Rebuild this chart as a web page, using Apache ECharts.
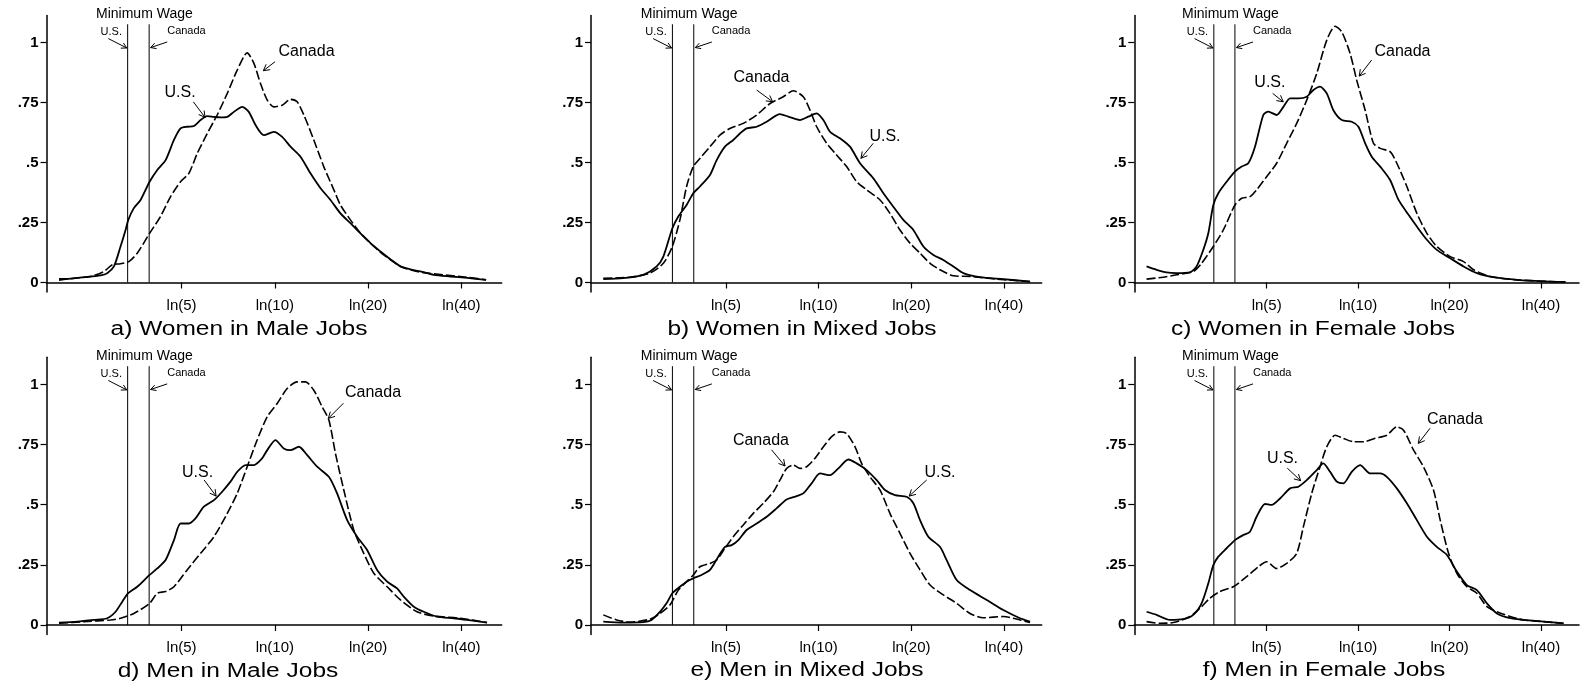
<!DOCTYPE html>
<html><head><meta charset="utf-8">
<script src="https://cdn.jsdelivr.net/npm/echarts@6/dist/echarts.min.js"></script>
<style>html,body{margin:0;padding:0;background:#fff}#c{width:1580px;height:685px}</style>
</head><body><div id="c"></div>
<script>
// ---------- data (x = ln(hourly wage), y = density) ----------
const xTickWages = [5, 10, 20, 40];
const xTickLabels = ['ln(5)', 'ln(10)', 'ln(20)', 'ln(40)'];
const yTickValues = [0, 0.25, 0.5, 0.75, 1];
const yTickLabels = ['0', '.25', '.5', '.75', '1'];
const minWageUS = 3.35;
const minWageCanada = 3.93;
const minWageLineTop = 1.076;
const panelTitles = ['a) Women in Male Jobs', 'b) Women in Mixed Jobs', 'c) Women in Female Jobs',
                     'd) Men in Male Jobs', 'e) Men in Mixed Jobs', 'f) Men in Female Jobs'];

const usA = [[0.699,0.015],[0.760,0.015],[0.884,0.022],[1.008,0.030],[1.057,0.039],[1.107,0.067],[1.156,0.150],[1.194,0.220],[1.213,0.260],[1.255,0.310],[1.305,0.344],[1.372,0.420],[1.429,0.469],[1.491,0.510],[1.553,0.594],[1.602,0.642],[1.651,0.649],[1.701,0.652],[1.751,0.677],[1.800,0.693],[1.850,0.690],[1.899,0.688],[1.949,0.690],[1.998,0.711],[2.060,0.732],[2.109,0.711],[2.159,0.656],[2.221,0.614],[2.295,0.628],[2.357,0.607],[2.419,0.566],[2.493,0.524],[2.567,0.455],[2.642,0.393],[2.716,0.344],[2.790,0.288],[2.864,0.247],[2.939,0.205],[3.013,0.164],[3.087,0.129],[3.161,0.097],[3.236,0.067],[3.310,0.055],[3.384,0.046],[3.483,0.032],[3.607,0.025],[3.731,0.019],[3.872,0.011]];
const caA = [[0.699,0.010],[0.810,0.018],[0.934,0.025],[1.033,0.046],[1.095,0.074],[1.156,0.078],[1.218,0.087],[1.280,0.122],[1.372,0.205],[1.453,0.275],[1.528,0.358],[1.602,0.420],[1.664,0.455],[1.726,0.538],[1.800,0.621],[1.874,0.698],[1.949,0.788],[2.023,0.885],[2.097,0.957],[2.147,0.913],[2.196,0.829],[2.246,0.760],[2.295,0.732],[2.357,0.739],[2.419,0.763],[2.468,0.753],[2.518,0.698],[2.592,0.594],[2.666,0.483],[2.741,0.386],[2.790,0.323],[2.864,0.261],[2.939,0.205],[3.013,0.164],[3.112,0.115],[3.236,0.067],[3.359,0.046],[3.483,0.036],[3.731,0.022],[3.872,0.011]];
const usB = [[0.692,0.014],[0.841,0.018],[0.991,0.032],[1.091,0.067],[1.141,0.108],[1.208,0.225],[1.253,0.275],[1.315,0.323],[1.365,0.372],[1.415,0.400],[1.490,0.448],[1.540,0.510],[1.602,0.566],[1.664,0.594],[1.714,0.621],[1.764,0.642],[1.839,0.649],[1.914,0.670],[2.013,0.702],[2.076,0.691],[2.163,0.677],[2.225,0.691],[2.288,0.705],[2.338,0.677],[2.388,0.628],[2.462,0.601],[2.537,0.566],[2.612,0.497],[2.712,0.434],[2.787,0.372],[2.861,0.316],[2.936,0.261],[3.011,0.219],[3.086,0.150],[3.161,0.115],[3.235,0.094],[3.310,0.067],[3.385,0.039],[3.510,0.022],[3.684,0.014],[3.884,0.004]];
const caB = [[0.692,0.018],[0.891,0.022],[1.041,0.039],[1.141,0.080],[1.208,0.150],[1.265,0.261],[1.315,0.400],[1.365,0.483],[1.415,0.517],[1.490,0.566],[1.564,0.614],[1.639,0.642],[1.739,0.663],[1.839,0.698],[1.939,0.746],[2.038,0.774],[2.113,0.799],[2.188,0.774],[2.238,0.718],[2.288,0.649],[2.363,0.580],[2.437,0.531],[2.512,0.483],[2.587,0.420],[2.662,0.386],[2.762,0.344],[2.836,0.288],[2.911,0.219],[2.986,0.164],[3.061,0.122],[3.136,0.080],[3.210,0.053],[3.310,0.028],[3.435,0.025],[3.634,0.014],[3.884,0.004]];
const usC = [[0.699,0.067],[0.775,0.053],[0.850,0.042],[0.926,0.039],[1.028,0.042],[1.078,0.067],[1.129,0.136],[1.167,0.205],[1.205,0.323],[1.243,0.372],[1.306,0.420],[1.369,0.462],[1.420,0.483],[1.470,0.497],[1.521,0.566],[1.584,0.698],[1.622,0.712],[1.685,0.698],[1.736,0.732],[1.787,0.767],[1.850,0.767],[1.913,0.774],[1.964,0.802],[2.014,0.816],[2.065,0.788],[2.115,0.718],[2.179,0.677],[2.254,0.670],[2.305,0.649],[2.356,0.580],[2.406,0.524],[2.470,0.483],[2.545,0.427],[2.609,0.344],[2.685,0.282],[2.748,0.233],[2.824,0.178],[2.899,0.136],[3.001,0.101],[3.102,0.067],[3.203,0.039],[3.330,0.022],[3.507,0.011],[3.760,0.004],[3.874,0.003]];
const caC = [[0.699,0.014],[0.825,0.022],[0.926,0.032],[1.053,0.046],[1.116,0.080],[1.205,0.150],[1.281,0.219],[1.369,0.323],[1.420,0.351],[1.483,0.358],[1.533,0.386],[1.609,0.441],[1.685,0.497],[1.761,0.580],[1.837,0.663],[1.913,0.760],[1.989,0.871],[2.065,1.010],[2.128,1.068],[2.179,1.044],[2.242,0.954],[2.292,0.843],[2.356,0.718],[2.419,0.580],[2.470,0.559],[2.545,0.545],[2.596,0.497],[2.672,0.400],[2.748,0.288],[2.824,0.205],[2.899,0.150],[3.001,0.108],[3.102,0.087],[3.178,0.053],[3.304,0.025],[3.507,0.011],[3.760,0.004],[3.874,0.003]];
const usD = [[0.699,0.010],[0.835,0.014],[0.958,0.021],[1.057,0.028],[1.119,0.055],[1.169,0.097],[1.213,0.132],[1.280,0.159],[1.372,0.208],[1.429,0.235],[1.491,0.270],[1.553,0.353],[1.602,0.422],[1.664,0.422],[1.713,0.443],[1.775,0.492],[1.850,0.519],[1.911,0.554],[1.973,0.596],[2.023,0.637],[2.085,0.665],[2.147,0.665],[2.208,0.693],[2.246,0.727],[2.307,0.769],[2.369,0.734],[2.419,0.727],[2.481,0.741],[2.543,0.706],[2.617,0.658],[2.704,0.616],[2.765,0.547],[2.840,0.436],[2.914,0.367],[2.988,0.312],[3.062,0.229],[3.137,0.180],[3.211,0.152],[3.260,0.118],[3.335,0.076],[3.409,0.055],[3.508,0.035],[3.632,0.028],[3.731,0.021],[3.879,0.010]];
const caD = [[0.699,0.007],[0.884,0.014],[1.082,0.021],[1.156,0.028],[1.255,0.048],[1.372,0.090],[1.429,0.132],[1.491,0.139],[1.553,0.159],[1.651,0.229],[1.751,0.298],[1.850,0.367],[1.949,0.464],[2.023,0.547],[2.097,0.658],[2.171,0.769],[2.246,0.866],[2.320,0.921],[2.394,0.983],[2.468,1.011],[2.530,1.011],[2.592,0.976],[2.654,0.907],[2.704,0.852],[2.753,0.713],[2.815,0.561],[2.889,0.395],[2.963,0.298],[3.038,0.215],[3.137,0.159],[3.236,0.104],[3.359,0.055],[3.483,0.037],[3.681,0.028],[3.879,0.010]];
const usE = [[0.692,0.014],[0.841,0.010],[0.991,0.012],[1.053,0.021],[1.116,0.055],[1.165,0.090],[1.208,0.132],[1.265,0.159],[1.315,0.180],[1.365,0.194],[1.427,0.208],[1.490,0.229],[1.552,0.284],[1.602,0.325],[1.652,0.332],[1.702,0.353],[1.764,0.395],[1.839,0.422],[1.914,0.450],[1.988,0.485],[2.063,0.522],[2.138,0.536],[2.188,0.547],[2.250,0.589],[2.313,0.630],[2.388,0.623],[2.450,0.651],[2.525,0.688],[2.587,0.672],[2.662,0.644],[2.737,0.602],[2.799,0.561],[2.874,0.540],[2.961,0.533],[3.011,0.506],[3.061,0.436],[3.123,0.367],[3.210,0.325],[3.260,0.270],[3.335,0.187],[3.435,0.145],[3.560,0.104],[3.684,0.062],[3.809,0.028],[3.884,0.014]];
const caE = [[0.692,0.042],[0.791,0.021],[0.891,0.012],[1.041,0.024],[1.116,0.048],[1.190,0.083],[1.253,0.145],[1.315,0.180],[1.365,0.208],[1.415,0.242],[1.490,0.256],[1.540,0.270],[1.602,0.319],[1.664,0.367],[1.739,0.416],[1.814,0.464],[1.889,0.506],[1.964,0.554],[2.013,0.602],[2.063,0.651],[2.113,0.665],[2.163,0.651],[2.213,0.658],[2.275,0.693],[2.338,0.741],[2.400,0.783],[2.462,0.803],[2.512,0.796],[2.575,0.741],[2.624,0.672],[2.687,0.616],[2.762,0.561],[2.836,0.464],[2.911,0.381],[2.986,0.298],[3.061,0.229],[3.136,0.166],[3.235,0.125],[3.335,0.090],[3.435,0.048],[3.535,0.030],[3.684,0.035],[3.809,0.021],[3.884,0.010]];
const usF = [[0.699,0.055],[0.775,0.042],[0.876,0.021],[0.977,0.024],[1.053,0.042],[1.116,0.090],[1.167,0.173],[1.205,0.249],[1.243,0.284],[1.306,0.319],[1.369,0.353],[1.432,0.374],[1.483,0.388],[1.533,0.450],[1.597,0.503],[1.647,0.499],[1.711,0.526],[1.787,0.568],[1.850,0.575],[1.913,0.602],[1.989,0.644],[2.039,0.672],[2.090,0.637],[2.141,0.596],[2.191,0.589],[2.254,0.637],[2.318,0.665],[2.394,0.630],[2.470,0.630],[2.520,0.616],[2.596,0.568],[2.672,0.506],[2.748,0.436],[2.824,0.367],[2.899,0.325],[2.976,0.291],[3.051,0.222],[3.127,0.166],[3.203,0.145],[3.279,0.090],[3.355,0.048],[3.456,0.028],[3.557,0.021],[3.709,0.014],[3.860,0.007]];
const caF = [[0.699,0.014],[0.800,0.007],[0.901,0.010],[1.028,0.035],[1.116,0.076],[1.179,0.111],[1.255,0.139],[1.356,0.159],[1.458,0.201],[1.546,0.242],[1.609,0.263],[1.685,0.235],[1.761,0.256],[1.837,0.298],[1.888,0.409],[1.951,0.547],[2.014,0.658],[2.065,0.741],[2.128,0.789],[2.191,0.776],[2.267,0.762],[2.343,0.762],[2.432,0.776],[2.520,0.789],[2.596,0.824],[2.647,0.810],[2.723,0.727],[2.798,0.658],[2.874,0.561],[2.925,0.436],[2.988,0.298],[3.051,0.215],[3.127,0.159],[3.203,0.132],[3.279,0.076],[3.355,0.055],[3.456,0.035],[3.557,0.021],[3.709,0.014],[3.860,0.007]];

// ---------- layout ----------
const FONT = '"Liberation Sans", Arial, Helvetica, sans-serif';
const Y_MIN = -0.04, Y_MAX = 1.113;
const L = [
  {left:46.5,   top:15.4,  width:455.2, height:276.7, xMin:0.606, xMax:3.988, tx:239,  ty:329},
  {left:591,    top:15.4,  width:450.7, height:276.7, xMin:0.600, xMax:3.971, tx:802,  ty:329},
  {left:1134.3, top:15.4,  width:444.7, height:276.7, xMin:0.606, xMax:3.977, tx:1313, ty:329},
  {left:46.5,   top:357.3, width:455.2, height:277.3, xMin:0.606, xMax:3.988, tx:228,  ty:671},
  {left:591,    top:357.3, width:450.7, height:277.3, xMin:0.600, xMax:3.971, tx:807,  ty:670},
  {left:1134.3, top:357.3, width:444.7, height:277.3, xMin:0.606, xMax:3.977, tx:1324, ty:670}
];
// curve-label annotations (text centre, arrow tail, arrow head) in data units
const ANN = [
  {ca:{t:[2.538,0.9625],a:[2.304,0.920],h:[2.217,0.8825]}, us:{t:[1.598,0.790],a:[1.697,0.753],h:[1.784,0.688]}},
  {ca:{t:[1.875,0.854], a:[1.839,0.802],h:[1.959,0.753]},  us:{t:[2.799,0.610],a:[2.711,0.580],h:[2.619,0.5175]}},
  {ca:{t:[2.639,0.9625],a:[2.405,0.927],h:[2.311,0.860]},  us:{t:[1.634,0.831],a:[1.655,0.788],h:[1.735,0.753]}},
  {ca:{t:[3.032,0.965], a:[2.812,0.922],h:[2.700,0.859]},  us:{t:[1.728,0.634],a:[1.777,0.603],h:[1.866,0.536]}},
  {ca:{t:[1.871,0.765], a:[1.951,0.728],h:[2.051,0.661]},  us:{t:[3.210,0.634],a:[3.111,0.603],h:[2.980,0.536]}},
  {ca:{t:[3.037,0.852], a:[2.848,0.818],h:[2.759,0.755]},  us:{t:[1.729,0.692],a:[1.766,0.652],h:[1.867,0.600]}}
];

const usSeries = [usA, usB, usC, usD, usE, usF];
const caSeries = [caA, caB, caC, caD, caE, caF];
const xTickValues = xTickWages.map(w => Math.log(w));
const lnUS = Math.log(minWageUS), lnCA = Math.log(minWageCanada);

const grids = [], xAxes = [], yAxes = [], series = [];
L.forEach((p, i) => {
  grids.push({left:p.left, top:p.top, width:p.width, height:p.height, containLabel:false});
  xAxes.push({
    type:'value', gridIndex:i, min:p.xMin, max:p.xMax,
    axisLine:{show:true, lineStyle:{color:'#000', width:1.5}},
    axisTick:{show:true, customValues:xTickValues, length:6, lineStyle:{color:'#000', width:1.2}},
    axisLabel:{show:true, customValues:xTickValues, margin:6, color:'#000', fontFamily:FONT, fontSize:15,
      formatter:v => { const k = xTickValues.findIndex(t => Math.abs(t - v) < 1e-6); return k >= 0 ? xTickLabels[k] : ''; }},
    splitLine:{show:false}
  });
  yAxes.push({
    type:'value', gridIndex:i, min:Y_MIN, max:Y_MAX,
    axisLine:{show:true, lineStyle:{color:'#000', width:1.5}},
    axisTick:{show:true, customValues:yTickValues, length:6, lineStyle:{color:'#000', width:1.2}},
    axisLabel:{show:true, customValues:yTickValues, margin:8, color:'#000', fontFamily:FONT, fontSize:15, fontWeight:'bold',
      formatter:v => { const k = yTickValues.findIndex(t => Math.abs(t - v) < 1e-6); return k >= 0 ? yTickLabels[k] : ''; }},
    splitLine:{show:false}
  });
  [lnUS, lnCA].forEach(x => series.push({
    type:'line', xAxisIndex:i, yAxisIndex:i, data:[[x, 0], [x, minWageLineTop]],
    showSymbol:false, silent:true, lineStyle:{color:'#000', width:1}, z:1
  }));
  series.push({type:'line', xAxisIndex:i, yAxisIndex:i, data:caSeries[i], showSymbol:false, smooth:0.25,
    lineStyle:{color:'#000', width:1.6, type:[9, 3]}, z:2});
  series.push({type:'line', xAxisIndex:i, yAxisIndex:i, data:usSeries[i], showSymbol:false, smooth:0.25,
    lineStyle:{color:'#000', width:1.8}, z:3});
});

const chart = echarts.init(document.getElementById('c'), null, {renderer:'canvas'});
chart.setOption({animation:false, backgroundColor:'#fff', grid:grids, xAxis:xAxes, yAxis:yAxes, series:series});

// ---------- annotations ----------
function txt(x, y, text, size, extra) {
  return Object.assign({type:'text', x:x, y:y, silent:true, z:10,
    style:{text:text, x:0, y:0, fill:'#000', fontFamily:FONT, fontSize:size,
      font: size + 'px ' + FONT, align:'center', verticalAlign:'middle', textAlign:'center', textVerticalAlign:'middle'}}, extra || {});
}
function arrow(t, h, len) {
  const dx = h[0] - t[0], dy = h[1] - t[1], d = Math.hypot(dx, dy), ux = dx / d, uy = dy / d;
  const a = 0.5, c = Math.cos(a), s = Math.sin(a);
  const p1 = [h[0] - len * (ux * c - uy * s), h[1] - len * (uy * c + ux * s)];
  const p2 = [h[0] - len * (ux * c + uy * s), h[1] - len * (uy * c - ux * s)];
  return [
    {type:'line', silent:true, z:10, shape:{x1:t[0], y1:t[1], x2:h[0], y2:h[1]}, style:{stroke:'#000', lineWidth:1}},
    {type:'polyline', silent:true, z:10, shape:{points:[p1, h, p2]}, style:{stroke:'#000', lineWidth:1, fill:null}}
  ];
}
const G = [];
L.forEach((p, i) => {
  const px = v => chart.convertToPixel({gridIndex:i}, v);
  G.push(txt(p.tx, p.ty, panelTitles[i], 20, {scaleX:1.225}));
  const uX = px([lnUS, 0])[0], cX = px([lnCA, 0])[0], top = px([lnUS, minWageLineTop])[1];
  G.push(txt((uX + cX) / 2 + 6, top - 10, 'Minimum Wage', 14));
  G.push(txt(uX - 16.4, top + 7.5, 'U.S.', 11));
  G.push(txt(cX + 37.3, top + 7, 'Canada', 11));
  G.push(...arrow([uX - 19.3, top + 14.3], [uX - 0.9, top + 23.7], 6));
  G.push(...arrow([cX + 18.1, top + 17.7], [cX + 1.5, top + 23.3], 6));
  const A = ANN[i];
  G.push(txt(...px(A.ca.t), 'Canada', 16));
  G.push(...arrow(px(A.ca.a), px(A.ca.h), 7));
  G.push(txt(...px(A.us.t), 'U.S.', 16));
  G.push(...arrow(px(A.us.a), px(A.us.h), 7));
});
chart.setOption({graphic:{elements:G}});
</script>
</body></html>
